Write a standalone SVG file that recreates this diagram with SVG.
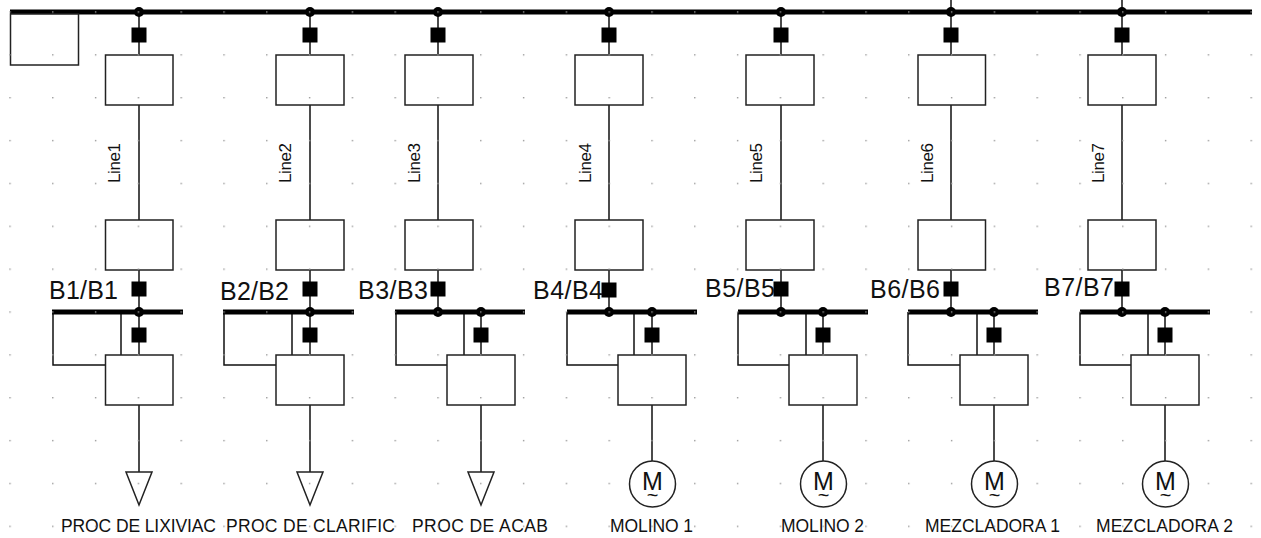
<svg xmlns="http://www.w3.org/2000/svg" width="1261" height="538" viewBox="0 0 1261 538">
<defs>
<pattern id="grid" x="9.3" y="11.3" width="42.8" height="42.86" patternUnits="userSpaceOnUse"><rect width="1.4" height="1.4" fill="#999"/></pattern>
<g id="sw"><rect x="-7.500" y="-7.500" width="15" height="15" fill="#000"/></g>
</defs>
<style>
.w{stroke:#111;stroke-width:1.5;fill:none}
.box{stroke:#222;stroke-width:1.5;fill:#fff}
.bus{stroke:#000;stroke-width:5;fill:none}
.t{font-family:"Liberation Sans",Arial,sans-serif;fill:#111}
.bl{font-size:25px}
.ll{font-size:17px}
.nl{font-size:17.500px}
</style>
<rect width="1261" height="538" fill="#fff"/>
<g id="connectors">
<path class="w" d="M139 12V55M139 105V220M139 270V312M139 312V355M53 312V365H105M121 312V355M139 405V472"/>
<path class="w" d="M310 12V55M310 105V220M310 270V312M310 312V355M224 312V365H276M292 312V355M310 405V472"/>
<path class="w" d="M438 12V55M438 105V220M438 270V312M481 312V355M396 312V365H447M464 312V355M481 405V472"/>
<path class="w" d="M609 12V55M609 105V220M609 270V312M652 312V355M567 312V365H618M634 312V355M652 405V461"/>
<path class="w" d="M781 12V55M781 105V220M781 270V312M823 312V355M738 312V365H789M806 312V355M823 405V461"/>
<path class="w" d="M951 0V55M951 105V220M951 270V312M994 312V355M908 312V365H960M977 312V355M994 405V461"/>
<path class="w" d="M1122 0V55M1122 105V220M1122 270V312M1165 312V355M1080 312V365H1131M1148 312V355M1165 405V461"/>
</g>
<g id="bus-main">
<path class="bus" d="M10 12H1252"/>
<circle cx="139" cy="12" r="5"/><circle cx="310" cy="12" r="5"/><circle cx="438" cy="12" r="5"/><circle cx="609" cy="12" r="5"/><circle cx="781" cy="12" r="5"/><circle cx="951" cy="12" r="5"/><circle cx="1122" cy="12" r="5"/>
</g>
<g id="grid-box"><rect class="box" x="10.500" y="14" width="68" height="51"/></g>
<g id="col1">
<use href="#sw" x="139" y="35"/><rect class="box" x="105.500" y="55" width="67.500" height="50"/>
<text class="t ll" transform="translate(120,183) rotate(-90)" textLength="40">Line1</text>
<rect class="box" x="105.500" y="220" width="67.500" height="50"/>
<use href="#sw" x="139" y="289"/>
<text class="t bl" x="49" y="299" textLength="69">B1/B1</text>
<path class="bus" d="M52 312H183"/><circle cx="139" cy="312" r="5"/>
<use href="#sw" x="139" y="335"/><rect class="box" x="105.500" y="355" width="67.500" height="50"/>
<path class="box" d="M126 472H152L139 505Z"/>
<text class="t nl" x="61" y="532" textLength="155">PROC DE LIXIVIAC</text>
</g>
<g id="col2">
<use href="#sw" x="310" y="35"/><rect class="box" x="276" y="55" width="68" height="50"/>
<text class="t ll" transform="translate(290.500,183) rotate(-90)" textLength="40">Line2</text>
<rect class="box" x="276" y="220" width="68" height="50"/>
<use href="#sw" x="310" y="289"/>
<text class="t bl" x="220" y="300" textLength="69">B2/B2</text>
<path class="bus" d="M223 312H354"/><circle cx="310" cy="312" r="5"/>
<use href="#sw" x="310" y="335"/><rect class="box" x="276" y="355" width="68" height="50"/>
<path class="box" d="M297 472H323L310 505Z"/>
<text class="t nl" x="226" y="532" textLength="169">PROC DE CLARIFIC</text>
</g>
<g id="col3">
<use href="#sw" x="438" y="35"/><rect class="box" x="405" y="55" width="68" height="50"/>
<text class="t ll" transform="translate(420,183) rotate(-90)" textLength="40">Line3</text>
<rect class="box" x="405" y="220" width="68" height="50"/>
<use href="#sw" x="438" y="289"/>
<text class="t bl" x="358" y="299" textLength="70">B3/B3</text>
<path class="bus" d="M395 312H525"/><circle cx="438" cy="312" r="5"/><circle cx="481" cy="312" r="5"/>
<use href="#sw" x="481" y="335"/><rect class="box" x="447" y="355" width="68" height="50"/>
<path class="box" d="M468 472H494L481 505Z"/>
<text class="t nl" x="412" y="532" textLength="136">PROC DE ACAB</text>
</g>
<g id="col4">
<use href="#sw" x="609" y="35"/><rect class="box" x="575" y="55" width="68" height="50"/>
<text class="t ll" transform="translate(591,183) rotate(-90)" textLength="40">Line4</text>
<rect class="box" x="575" y="220" width="68" height="50"/>
<use href="#sw" x="609" y="290"/>
<text class="t bl" x="533" y="299" textLength="70">B4/B4</text>
<path class="bus" d="M567 312H697"/><circle cx="609" cy="312" r="5"/><circle cx="652" cy="312" r="5"/>
<use href="#sw" x="652" y="335"/><rect class="box" x="618" y="355" width="68" height="50"/>
<circle class="box" cx="652.500" cy="484" r="23"/>
<text class="t" font-size="25" x="652.500" y="490" text-anchor="middle">M</text><text class="t" font-size="20" x="652.500" y="502" text-anchor="middle">~</text>
<text class="t nl" x="610" y="532" textLength="83">MOLINO 1</text>
</g>
<g id="col5">
<use href="#sw" x="781" y="35"/><rect class="box" x="746" y="55" width="68" height="50"/>
<text class="t ll" transform="translate(762,183) rotate(-90)" textLength="40">Line5</text>
<rect class="box" x="746" y="220" width="68" height="50"/>
<use href="#sw" x="781" y="289"/>
<text class="t bl" x="705" y="297" textLength="70">B5/B5</text>
<path class="bus" d="M738 312H868"/><circle cx="781" cy="312" r="5"/><circle cx="823" cy="312" r="5"/>
<use href="#sw" x="823" y="335"/><rect class="box" x="789" y="355" width="68" height="50"/>
<circle class="box" cx="823.500" cy="484" r="23"/>
<text class="t" font-size="25" x="823.500" y="490" text-anchor="middle">M</text><text class="t" font-size="20" x="823.500" y="502" text-anchor="middle">~</text>
<text class="t nl" x="781" y="532" textLength="83">MOLINO 2</text>
</g>
<g id="col6">
<use href="#sw" x="951" y="35"/><rect class="box" x="918" y="55" width="67.500" height="50"/>
<text class="t ll" transform="translate(933,183) rotate(-90)" textLength="40">Line6</text>
<rect class="box" x="918" y="220" width="67.500" height="50"/>
<use href="#sw" x="951" y="289"/>
<text class="t bl" x="870" y="298" textLength="70">B6/B6</text>
<path class="bus" d="M908 312H1038"/><circle cx="951" cy="312" r="5"/><circle cx="994" cy="312" r="5"/>
<use href="#sw" x="994" y="335"/><rect class="box" x="960" y="355" width="68" height="50"/>
<circle class="box" cx="994.500" cy="484" r="23"/>
<text class="t" font-size="25" x="994.500" y="490" text-anchor="middle">M</text><text class="t" font-size="20" x="994.500" y="502" text-anchor="middle">~</text>
<text class="t nl" x="925" y="532" textLength="135">MEZCLADORA 1</text>
</g>
<g id="col7">
<use href="#sw" x="1122" y="35"/><rect class="box" x="1088" y="55" width="68" height="50"/>
<text class="t ll" transform="translate(1104,183) rotate(-90)" textLength="40">Line7</text>
<rect class="box" x="1088" y="220" width="68" height="50"/>
<use href="#sw" x="1122" y="289"/>
<text class="t bl" x="1044" y="296" textLength="70">B7/B7</text>
<path class="bus" d="M1080 312H1210"/><circle cx="1122" cy="312" r="5"/><circle cx="1165" cy="312" r="5"/>
<use href="#sw" x="1165" y="335"/><rect class="box" x="1131" y="355" width="68" height="50"/>
<circle class="box" cx="1165.500" cy="484" r="23"/>
<text class="t" font-size="25" x="1165.500" y="490" text-anchor="middle">M</text><text class="t" font-size="20" x="1165.500" y="502" text-anchor="middle">~</text>
<text class="t nl" x="1096" y="532" textLength="137">MEZCLADORA 2</text>
</g>
<rect id="grid-dots" width="1261" height="538" fill="url(#grid)"/>
</svg>
